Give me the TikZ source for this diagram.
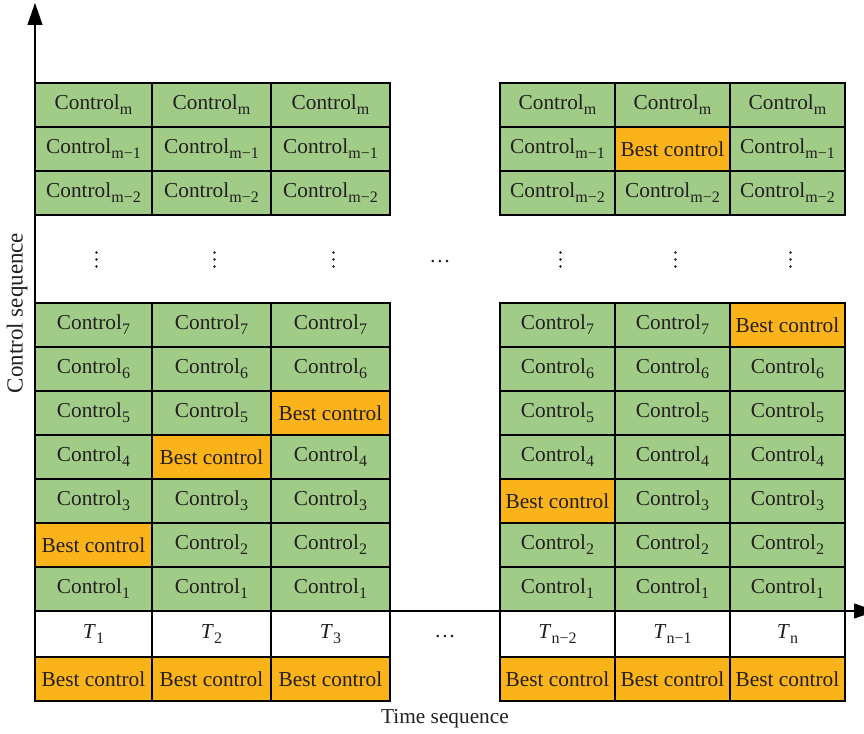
\documentclass[tikz,border=0pt]{standalone}
\usepackage{fontspec}
\setmainfont{Liberation Serif}
\usetikzlibrary{arrows.meta}
\definecolor{cellgreen}{RGB}{160,204,135}
\definecolor{cellorange}{RGB}{251,179,26}
\definecolor{inkgray}{RGB}{35,31,32}
% lowered roman index used for Control_k and T_k
\newcommand\lowsub[1]{\raisebox{-5pt}{\fontsize{16}{17}\selectfont #1}}
\newcommand\ctrl[1]{Control\lowsub{#1}}

\begin{document}
\begin{tikzpicture}[x=1pt,y=-1pt,
  font=\fontsize{21.3}{24}\selectfont, text=inkgray,
  cellbox/.style={draw=black, line width=1.1pt, minimum height=44pt, inner sep=0pt, outer sep=0pt},
  ctrlcell/.style={cellbox, fill=cellgreen},
  bestcell/.style={cellbox, fill=cellorange},
  timecell/.style={cellbox, fill=white, minimum height=46pt},
  axisline/.style={line width=1.1pt, draw=black, -{Triangle[length=22pt,width=15pt]}},
  dotmark/.style={fill=inkgray},
]
\useasboundingbox (0,0) rectangle (864,733);

% control grid: one column per time step, best control marked in orange
\foreach \col/\xl/\xr/\best in {1/35/152/2, 2/152/271/4, 3/271/390/5, 5/500/615/3, 6/615/730/9, 7/730/845/7}{
  \foreach \rid/\lab/\ytop in {10/m/83, 9/m−1/127, 8/m−2/171, 7/7/303, 6/6/347, 5/5/391, 4/4/435, 3/3/479, 2/2/523, 1/1/567}{
    \ifnum\rid=\best\relax
      \node[bestcell, minimum width={\xr-\xl}] (g-\col-\rid) at ({(\xl+\xr)/2},{\ytop+22}) {Best control};
    \else
      \node[ctrlcell, minimum width={\xr-\xl}] (g-\col-\rid) at ({(\xl+\xr)/2},{\ytop+22}) {\ctrl{\lab}};
    \fi
  }
}

% time row
\foreach \col/\xl/\xr/\lab in {1/35/152/1, 2/152/271/2, 3/271/390/3, 5/500/615/n−2, 6/615/730/n−1, 7/730/845/n}{
  \node[timecell, minimum width={\xr-\xl}] (t-\col) at ({(\xl+\xr)/2},634) {\textit{T}\lowsub{\lab}};
}
\node (t-gap) at (445,637) {…};

% best control per time step
\foreach \col/\xl/\xr in {1/35/152, 2/152/271, 3/271/390, 5/500/615, 6/615/730, 7/730/845}{
  \node[bestcell, minimum width={\xr-\xl}] (b-\col) at ({(\xl+\xr)/2},679) {Best control};
}

% ellipses between the two blocks
\node (h-gap) at (440,262) {…};
\foreach \xc in {96.5, 214.5, 333.5, 560.5, 675.5, 790.5}{
  \foreach \dy in {-7,0,7}{
    \fill[dotmark] (\xc,{259.5+\dy}) circle (1.4pt);
  }
}

% axes
\coordinate (origin) at (35,657);
\coordinate (ytip) at (35,3);
\coordinate (xstart) at (35,611);
\coordinate (xtip) at (876,611);
\draw[axisline] (origin) -- (ytip);
\draw[axisline] (xstart) -- (xtip);

\node[rotate=90, font=\fontsize{23}{26}\selectfont] (ylab) at (17,313) {Control sequence};
\node (xlab) at (445,719) {Time sequence};
\end{tikzpicture}
\end{document}
